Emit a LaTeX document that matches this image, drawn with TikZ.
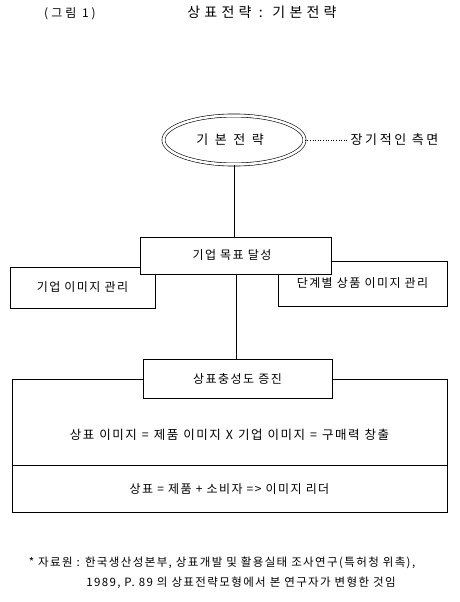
\documentclass[tikz,border=0pt]{standalone}
\usepackage{fontspec}
\setmainfont{Noto Sans CJK KR}
\usetikzlibrary{shapes.geometric}

\newcommand{\spaced}[2]{\fontsize{#1}{#1}\selectfont\addfontfeature{LetterSpace=#2}}
\newcommand{\widewords}{\spaceskip=5pt\relax}

\tikzset{
  every path/.style={line width=0.6pt},
  box/.style={draw, fill=white, rectangle, inner sep=0pt, font=\spaced{12}{12}},
  wide/.style={draw, rectangle, inner sep=0pt, minimum width=435pt, font=\spaced{12}{12}},
  note/.style={font=\spaced{11.5}{12}}
}

\begin{document}
\begin{tikzpicture}[x=1pt, y=-1pt]
  \useasboundingbox (0,0) rectangle (460,602);

  % heading
  \node[font=\spaced{12}{25}] (figno) at (70,14) {(그림 1)};
  \node[font=\spaced{14}{30}] (title) at (262,12) {상표전략 : 기본전략};

  % basic strategy
  \node[ellipse, draw, double, double distance=2.5pt, minimum width=141pt, minimum height=49pt,
        font=\spaced{13}{28}] (basic) at (234,140) {\hspace*{-8pt}기 본 전 략};
  \node[anchor=west, font=\spaced{13}{20}] (longterm) at (347,140) {장기적인 측면};
  \draw[dotted, thick] (basic.east) -- (longterm.west);

  % second level
  \node[box, minimum width=145pt, minimum height=41pt] (corpimg) at (82.5,287.5) {기업 이미지 관리};
  \node[box, minimum width=169pt, minimum height=45pt] (prodimg) at (362.5,283.5) {단계별 상품 이미지 관리};
  \node[box, minimum width=191pt, minimum height=37pt] (goal) at (236,255.5) {\hspace*{-8pt}기업 목표 달성};

  % third level
  \node[wide, minimum height=86pt, text height=60pt, text depth=26pt,
        font=\spaced{12.5}{12}\widewords] (brandimg) at (229.5,422)
    {상표 이미지 = 제품 이미지 X 기업 이미지 = 구매력 창출};
  \node[wide, minimum height=47pt, anchor=north] (leader) at (brandimg.south) {상표 = 제품 + 소비자 => 이미지 리더};
  \node[box, minimum width=189pt, minimum height=39pt] (loyalty) at (237.5,378.5) {상표충성도 증진};

  % connectors
  \draw (basic.south) -- (basic.south |- goal.north);
  \draw (goal.south) -- (goal.south |- loyalty.north);

  % source
  \node[note] (src1) at (222,563) {* 자료원 : 한국생산성본부, 상표개발 및 활용실태 조사연구(특허청 위촉),};
  \node[note] (src2) at (241,583) {1989, P. 89 의 상표전략모형에서 본 연구자가 변형한 것임};
\end{tikzpicture}
\end{document}
